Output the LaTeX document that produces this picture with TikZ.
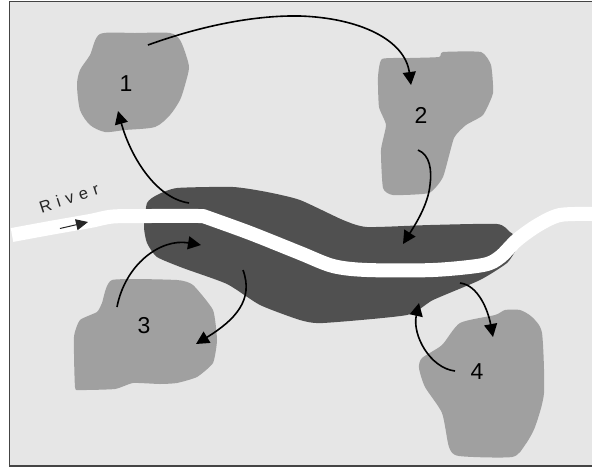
\documentclass[tikz,border=0pt]{standalone}
\usepackage{fontspec}
\setmainfont{Liberation Sans}
\usetikzlibrary{arrows.meta}
\definecolor{bgc}{HTML}{E6E6E6}
\definecolor{blobc}{HTML}{A0A0A0}
\definecolor{darkc}{HTML}{505050}
\definecolor{framec}{HTML}{444444}
\tikzset{
  land/.style={fill=blobc,draw=none},
  wet/.style={fill=darkc,draw=none},
  flow/.style={draw=black,line width=1.6pt,-{Triangle[length=13pt,width=13pt]}},
  num/.style={font=\fontsize{23}{25}\selectfont,text=black,inner sep=0pt},
}
\begin{document}
\begin{tikzpicture}[x=1pt,y=-1pt]
\useasboundingbox (0,0) rectangle (592,467);
\fill[white] (0,0) rectangle (592,467);
\fill[bgc] (10,2) rectangle (592,466);
\draw[framec,line width=1.6pt] (592,1.5) -- (9.5,1.5) -- (9.5,466) -- (592,466);
% land areas
\fill[land] plot[smooth cycle,tension=0.45] coordinates {(100,34)(135,33)(170,33)(180,40)(186,55)(189,68)(185,85)(180,100)(170,115)(155,127)(125,130)(105,132)(90,125)(80,110)(77,85)(80,70)(90,55)};
\fill[land] plot[smooth cycle,tension=0.3] coordinates {(382,59)(410,58)(439,57)(443,52)(481,52)(491,65)(493,93)(483,115)(466,125)(454,138)(443,177)(429,193)(393,195)(383,188)(381,150)(386,125)(379,107)(378,77)};
\fill[land] plot[smooth cycle,tension=0.3] coordinates {(112,280)(177,280)(193,285)(213,310)(217,340)(213,363)(197,377)(177,383)(160,384)(133,383)(115,389)(80,390)(75,387)(74,337)(80,320)(97,312)(102,303)};
\fill[land] plot[smooth cycle,tension=0.4] coordinates {(505,310)(520,310)(532,317)(542,333)(544,393)(535,427)(525,445)(512,457)(459,456)(449,447)(442,413)(425,387)(419,368)(422,358)(442,345)(460,323)(495,315)};
% wetland
\fill[wet] plot[smooth cycle,tension=0.35] coordinates {(147,203)(157,195)(177,188)(233,187)(267,192)(300,200)(343,220)(367,227)(430,225)(497,224)(510,232)(520,240)(517,248)(507,263)(480,280)(433,300)(407,315)(323,323)(300,320)(260,305)(227,284)(183,268)(157,257)(147,243)(144,227)};
% river
\draw[white,line width=14pt,line join=round] plot[smooth,tension=0.5] coordinates {(12,235)(50,228)(90,221)(113,216.5)(150,216)(203,216)} -- plot[smooth,tension=0.5] coordinates {(203,216)(250,233)(300,253)(333,266)(367,270)(433,270)(483,265)(500,257)(517,240)(538,225)(560,215)(592,214)};
\draw[black!85,line width=1pt,-{Triangle[length=12pt,width=11pt]}] (60,228.5) coordinate (ra) -- (88,222) coordinate (rb);
% labels
\node[num] (n1) at (126,84) {1};
\node[num] (n2) at (421,115) {2};
\node[num] (n3) at (144,326) {3};
\node[num] (n4) at (477,372) {4};
\node[font=\fontsize{16.5}{18}\selectfont\addfontfeatures{LetterSpace=35},text=black!85,rotate=18,inner sep=0pt] (river) at (69,198) {River};
% connector ends
\coordinate (a1) at (148,45);
\coordinate (a2) at (300,16);
\coordinate (a3) at (411,85);
\coordinate (b1) at (418,150);
\coordinate (b2) at (430,185);
\coordinate (b3) at (403,244);
\coordinate (c1) at (189,203);
\coordinate (c2) at (118,111);
\coordinate (d1) at (117,307);
\coordinate (d2) at (201,245);
\coordinate (e1) at (243,270);
\coordinate (e2) at (196,344);
\coordinate (f1) at (460,283);
\coordinate (f2) at (493,337);
\coordinate (g1) at (455,371);
\coordinate (g2) at (419,303);
% connectors
\draw[flow] (a1) .. controls (195,28) and (250,15) .. (a2) .. controls (360,18) and (405,40) .. (a3);
\draw[flow] (b1) .. controls (430,155) and (432,170) .. (b2) .. controls (428,205) and (415,225) .. (b3);
\draw[flow] (c1) .. controls (155,198) and (130,155) .. (c2);
\draw[flow] (d1) .. controls (125,265) and (160,238) .. (d2);
\draw[flow] (e1) .. controls (254,300) and (235,320) .. (e2);
\draw[flow] (f1) .. controls (478,285) and (488,310) .. (f2);
\draw[flow] (g1) .. controls (430,368) and (412,335) .. (g2);
\end{tikzpicture}
\end{document}
